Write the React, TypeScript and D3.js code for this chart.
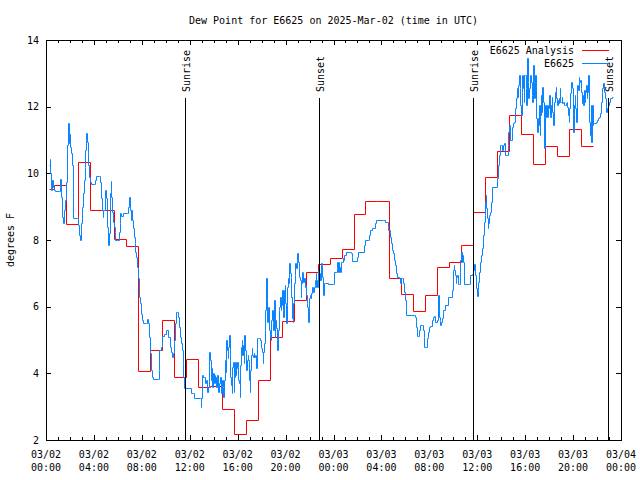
import React from "react";
import * as d3 from "d3";

const TITLE = "Dew Point for E6625 on 2025-Mar-02 (time in UTC)";
const Y_LABEL = "degrees F";
const SERIES_NAMES = ["E6625 Analysis", "E6625"];
const START_MS = Date.UTC(2025, 2, 2, 0, 0);
const END_MS = Date.UTC(2025, 2, 4, 0, 0);
const Y_DOMAIN = [2, 14];
const Y_TICKS = [2, 4, 6, 8, 10, 12, 14];

// Analysis (hourly, step): first value starts at 00:15, later values start at (k-1):40
const ANALYSIS_START_H = 0.25;
const ANALYSIS_END_H = 45.7;
const analysisValues = [
  9.52, 9.64, 8.47, 10.35, 8.9, 8.9, 8.03, 7.82, 4.07, 4.7, 5.59, 3.89, 4.42, 3.6, 3.62, 2.92,
  2.18, 2.59, 3.81, 5.09, 5.57, 6.19, 7.03, 7.27, 7.45, 7.73, 8.77, 9.18, 9.16, 6.85, 6.37, 5.86,
  6.34, 7.18, 7.34, 7.85, 8.85, 9.88, 10.68, 11.74, 11.17, 10.28, 10.82, 10.52, 11.33, 10.82,
];

// Observations: [hours since 03/02 00:00 UTC, dew point F]
const observations: [number, number][] = [
  [0.25, 10.25], [0.31, 10.42], [0.36, 10.0], [0.42, 9.5], [0.47, 9.8], [0.56, 9.6], [0.67, 9.5],
  [0.75, 9.48], [1.09, 9.48], [1.14, 9.58], [1.2, 9.82], [1.25, 9.3], [1.36, 8.7], [1.42, 8.52],
  [1.5, 8.9], [1.59, 9.2], [1.67, 9.75], [1.73, 10.05], [1.78, 10.85], [1.84, 11.5], [1.89, 10.9],
  [1.95, 11.18], [2.0, 10.8], [2.06, 10.6], [2.14, 10.25], [2.23, 9.45], [2.28, 8.65], [2.62, 8.65],
  [2.67, 8.45], [2.75, 8.15], [2.81, 8.0], [2.89, 8.5], [2.98, 9.0], [3.06, 9.4], [3.14, 9.8],
  [3.23, 10.2], [3.28, 10.7], [3.34, 11.0], [3.37, 11.2], [3.42, 10.95], [3.48, 10.6], [3.53, 10.25],
  [3.59, 9.9], [3.64, 9.75], [3.73, 9.68], [4.01, 9.68], [4.09, 9.8], [4.2, 9.93], [4.45, 9.93],
  [4.51, 9.75], [4.59, 9.25], [4.67, 8.9], [4.73, 8.7], [4.79, 8.9], [4.9, 9.25], [4.95, 9.5],
  [5.01, 9.25], [5.06, 8.9], [5.12, 8.4], [5.2, 7.85], [5.26, 8.2], [5.31, 8.7], [5.37, 9.4],
  [5.4, 9.78], [5.45, 9.3], [5.51, 8.85], [5.59, 8.55], [5.68, 8.4], [5.73, 8.25], [5.79, 8.0],
  [5.95, 8.0], [6.07, 8.25], [6.15, 8.5], [6.2, 8.8], [6.29, 8.72], [6.4, 8.8], [6.79, 8.8],
  [6.87, 9.0], [6.96, 9.3], [7.01, 8.9], [7.07, 8.6], [7.12, 8.9], [7.21, 8.6], [7.26, 8.35],
  [7.32, 8.1], [7.4, 7.9], [7.46, 7.65], [7.54, 7.5], [7.62, 7.2], [7.68, 6.85], [7.74, 6.3],
  [7.82, 6.1], [7.9, 6.0], [7.96, 5.78], [8.04, 5.6], [8.12, 5.5], [8.32, 5.5], [8.4, 5.62],
  [8.49, 5.5], [8.57, 5.1], [8.65, 4.6], [8.74, 4.1], [8.82, 3.9], [8.93, 3.82], [9.35, 3.82],
  [9.4, 4.1], [9.46, 4.7], [9.57, 4.8], [9.65, 5.0], [9.71, 5.12], [9.85, 5.18], [9.99, 5.3],
  [10.16, 5.3], [10.21, 5.1], [10.32, 4.8], [10.41, 4.65], [10.49, 4.5], [10.57, 4.6], [10.66, 5.0],
  [10.77, 5.5], [10.82, 5.85], [10.93, 5.85], [11.02, 5.7], [11.1, 5.4], [11.19, 5.1], [11.24, 4.9],
  [11.32, 4.7], [11.41, 4.3], [11.46, 3.9], [11.52, 3.55],
  [12.08, 3.56], [12.13, 3.42], [12.3, 3.42], [12.35, 3.25], [12.86, 3.25], [12.91, 3.0],
  [12.97, 3.25], [13.05, 3.95], [13.13, 3.9], [13.24, 3.7], [13.33, 3.8], [13.41, 3.45], [13.52, 3.6],
  [13.58, 3.9], [13.63, 4.65], [13.69, 4.4], [13.75, 3.8], [13.8, 4.15], [13.88, 3.6], [13.97, 4.0],
  [14.02, 3.7], [14.08, 3.95], [14.13, 3.9], [14.19, 3.6], [14.25, 3.85], [14.3, 3.95], [14.39, 3.45],
  [14.47, 3.7], [14.53, 3.9], [14.61, 3.4], [14.69, 3.8], [14.75, 3.6], [14.8, 3.3], [14.89, 3.8],
  [14.94, 4.4], [15.0, 4.05], [15.06, 5.0], [15.11, 4.7], [15.16, 4.45], [15.22, 4.8], [15.28, 5.15],
  [15.33, 4.4], [15.39, 3.9], [15.44, 3.65], [15.5, 3.4], [15.55, 4.2], [15.61, 4.35], [15.67, 3.45],
  [15.72, 3.9], [15.78, 4.35], [15.83, 3.95], [15.89, 4.15], [15.94, 4.35], [16.0, 4.2], [16.05, 3.8],
  [16.11, 3.7], [16.17, 3.3], [16.22, 4.25], [16.28, 4.8], [16.33, 5.0], [16.39, 4.55], [16.45, 4.85],
  [16.5, 4.3], [16.56, 5.15], [16.61, 4.7], [16.67, 4.6], [16.72, 4.1], [16.78, 4.4], [16.83, 4.55],
  [16.89, 4.4], [16.95, 3.8], [17.0, 3.45], [17.06, 4.1], [17.11, 4.55], [17.17, 4.75], [17.22, 4.55],
  [17.28, 4.5], [17.33, 4.6], [17.39, 4.5], [17.45, 4.55], [17.5, 4.55], [17.56, 4.15], [17.61, 5.05],
  [17.67, 5.05], [17.78, 5.05], [17.86, 5.0], [17.92, 4.8], [17.97, 4.75], [18.03, 4.65], [18.08, 4.3],
  [18.14, 4.65], [18.2, 4.9], [18.25, 5.3], [18.31, 5.9], [18.36, 6.85], [18.42, 6.2], [18.47, 5.55],
  [18.53, 6.0], [18.59, 5.3], [18.64, 5.3], [18.7, 5.1], [18.75, 5.0], [18.81, 5.6], [18.86, 5.9],
  [18.92, 5.5], [18.98, 5.3], [19.03, 6.2], [19.09, 5.1], [19.14, 5.6], [19.2, 5.35], [19.25, 5.0],
  [19.31, 4.7], [19.37, 5.3], [19.42, 5.9], [19.48, 6.0], [19.53, 6.3], [19.59, 5.9], [19.64, 6.05],
  [19.7, 6.5], [19.76, 5.9], [19.81, 5.7], [19.87, 6.5], [19.92, 6.65], [19.98, 6.1], [20.03, 5.5],
  [20.09, 6.05], [20.14, 6.6], [20.2, 6.85], [20.26, 6.7], [20.31, 7.3], [20.37, 7.0], [20.42, 6.9],
  [20.48, 6.3], [20.53, 5.65], [20.59, 5.55], [20.64, 6.1], [20.7, 6.7], [20.76, 6.95], [20.81, 7.3],
  [20.87, 7.15], [20.92, 7.4], [20.98, 7.6], [21.04, 7.35], [21.09, 7.2], [21.15, 6.9], [21.2, 6.8],
  [21.26, 6.3], [21.31, 6.7], [21.37, 7.05], [21.42, 7.0], [21.48, 6.75], [21.54, 6.85], [21.59, 6.6],
  [21.65, 6.65], [21.7, 6.35], [21.76, 6.1], [21.81, 6.0], [21.87, 5.55], [21.93, 5.95], [21.98, 6.25],
  [22.04, 6.35], [22.09, 6.25], [22.15, 6.4], [22.2, 6.6], [22.26, 6.6], [22.31, 6.45], [22.37, 6.6],
  [22.42, 6.65],
  [22.45, 6.8], [22.51, 7.0], [22.57, 6.6], [22.62, 6.8], [22.68, 6.6], [22.73, 7.1], [22.79, 6.8],
  [22.84, 7.0], [22.9, 6.8], [22.95, 7.3], [23.01, 7.25], [23.07, 6.9], [23.12, 6.35], [23.18, 6.7],
  [23.29, 6.7], [23.57, 6.68], [23.98, 6.68], [24.04, 7.05], [24.18, 7.05], [24.26, 7.15], [24.32, 7.35],
  [24.38, 7.05], [24.43, 7.35], [24.49, 7.2], [24.54, 7.05], [24.6, 7.35], [24.68, 7.35], [24.79, 7.45],
  [24.85, 7.4], [24.91, 7.55], [25.01, 7.65], [25.38, 7.65], [25.46, 7.6], [25.52, 7.5], [25.57, 7.38],
  [25.93, 7.38], [25.99, 7.5], [26.07, 7.65], [26.52, 7.65], [26.57, 7.85], [26.63, 8.0], [26.9, 8.0],
  [26.99, 8.15], [27.05, 8.3], [27.19, 8.35], [27.47, 8.5], [27.52, 8.6], [28.16, 8.6], [28.3, 8.53],
  [28.44, 8.53], [28.52, 8.4], [28.58, 8.3], [28.69, 8.25], [28.74, 8.1], [28.83, 7.9], [28.91, 7.7],
  [28.99, 7.6], [29.05, 7.4], [29.13, 7.25], [29.21, 7.0], [29.33, 6.9], [29.47, 6.85], [29.55, 6.7],
  [29.6, 6.85], [29.69, 6.85], [29.8, 6.7], [29.91, 6.45], [29.97, 6.2], [30.02, 6.0], [30.08, 5.74],
  [30.74, 5.74], [30.8, 5.7], [30.86, 5.58], [30.91, 5.4], [30.97, 5.13], [31.08, 5.13], [31.13, 5.3],
  [31.19, 5.45], [31.41, 5.45], [31.47, 5.3], [31.52, 5.1], [31.58, 4.78], [31.72, 4.78], [31.77, 5.05],
  [31.86, 5.1], [31.91, 5.25], [32.0, 5.4], [32.08, 5.42], [32.19, 5.42], [32.24, 5.6], [32.33, 5.7],
  [32.39, 5.72], [32.47, 5.55], [32.61, 5.6], [32.7, 5.9], [32.75, 6.35], [32.81, 5.7], [32.86, 5.6],
  [32.92, 5.45], [32.97, 5.55], [33.03, 5.65], [33.11, 5.8], [33.17, 5.9], [33.31, 6.05], [33.53, 6.05],
  [33.58, 6.3], [33.86, 6.3], [33.92, 6.5], [33.97, 7.1], [34.03, 7.25], [34.08, 7.1], [34.14, 6.95],
  [34.2, 6.7], [34.25, 6.9], [34.31, 6.95], [34.36, 6.68], [34.47, 6.68], [34.53, 7.2], [34.58, 7.4],
  [34.64, 7.65], [34.7, 7.35], [34.75, 7.55], [34.84, 7.35], [34.92, 6.68],
  [35.31, 6.67], [35.36, 6.95], [35.59, 6.97], [35.67, 7.1], [35.76, 7.27], [35.81, 6.95], [35.89, 6.55],
  [35.95, 6.33], [36.03, 6.5], [36.09, 6.75], [36.17, 7.05], [36.23, 7.35], [36.28, 7.55], [36.37, 7.75],
  [36.45, 7.95], [36.51, 8.15], [36.56, 8.55], [36.62, 8.75], [36.64, 9.15], [36.7, 9.35], [36.76, 8.95],
  [36.81, 8.65], [36.87, 8.35], [36.92, 8.5], [36.98, 8.75], [37.06, 8.85], [37.15, 9.15], [37.2, 9.6],
  [37.62, 9.6], [37.68, 9.85], [37.76, 10.25], [37.82, 10.55], [37.9, 10.85], [37.98, 10.85],
  [38.09, 10.7], [38.15, 10.85], [38.23, 10.9], [38.29, 10.55], [38.45, 10.55], [38.54, 10.85],
  [38.59, 11.25], [38.65, 11.45], [38.7, 11.4], [38.76, 11.0], [38.87, 11.25], [38.93, 11.4],
  [38.98, 11.5], [39.04, 11.55], [39.15, 11.95], [39.21, 12.25], [39.29, 12.55], [39.37, 12.3],
  [39.43, 12.65], [39.48, 12.95], [39.54, 12.55], [39.6, 12.05], [39.65, 11.75], [39.71, 12.45],
  [39.76, 12.95], [39.82, 12.55], [39.87, 12.15], [39.93, 12.95], [39.99, 12.95], [40.04, 12.55],
  [40.1, 12.05], [40.15, 13.45], [40.21, 12.75], [40.26, 12.25], [40.32, 12.55], [40.4, 12.95],
  [40.48, 12.75], [40.54, 12.35], [40.6, 12.15], [40.65, 13.25], [40.71, 12.75], [40.76, 12.25],
  [40.82, 12.95], [40.88, 12.15], [40.93, 11.65], [40.99, 11.25], [41.04, 11.65], [41.1, 11.45],
  [41.15, 12.05], [41.21, 11.15], [41.27, 11.75], [41.32, 12.35], [41.38, 11.85], [41.43, 12.6],
  [41.49, 12.15], [41.54, 11.7], [41.6, 10.75], [41.66, 12.05], [41.71, 11.7], [41.77, 11.7],
  [41.82, 12.05], [41.88, 11.7], [41.94, 11.95], [41.99, 12.35], [42.05, 11.75], [42.1, 11.7],
  [42.16, 12.05], [42.21, 12.3], [42.27, 11.85], [42.32, 11.45], [42.38, 11.95], [42.43, 12.15],
  [42.49, 12.45], [42.55, 12.6], [42.6, 12.25], [42.66, 12.05], [42.71, 12.2], [42.77, 12.1],
  [42.83, 12.25], [42.88, 12.55], [42.94, 12.15], [42.99, 12.15], [43.05, 12.3], [43.1, 12.1],
  [43.19, 12.15], [43.27, 12.05], [43.32, 12.05], [43.38, 12.1], [43.46, 12.15], [43.52, 12.0],
  [43.58, 11.75], [43.63, 11.55], [43.69, 11.95], [43.74, 12.4], [43.8, 12.55], [43.85, 12.75],
  [43.91, 12.55], [43.97, 11.95], [44.02, 11.25], [44.08, 12.05], [44.13, 12.35], [44.19, 11.95],
  [44.24, 11.55], [44.3, 12.35], [44.35, 12.65], [44.41, 12.5], [44.47, 12.9], [44.52, 12.75],
  [44.58, 12.8], [44.63, 12.55], [44.69, 12.45], [44.74, 12.1], [44.8, 12.35], [44.85, 12.05],
  [44.91, 12.5], [44.97, 12.15], [45.02, 12.45], [45.08, 12.65], [45.13, 12.25], [45.19, 12.45],
  [45.24, 12.95], [45.3, 11.85], [45.35, 11.55], [45.41, 11.15], [45.47, 12.05], [45.52, 10.95],
  [45.58, 12.05], [45.63, 11.45], [45.69, 11.5], [45.77, 11.5], [45.88, 11.55], [45.99, 11.6],
  [46.1, 11.65], [46.19, 11.7], [46.27, 11.8], [46.33, 12.15], [46.38, 12.45], [46.44, 12.55],
  [46.49, 12.7], [46.55, 12.55], [46.6, 12.45], [46.66, 12.25], [46.72, 12.25], [46.77, 11.85],
  [46.83, 11.95], [46.88, 12.05], [47.0, 12.15], [47.11, 12.25], [47.22, 12.3], [47.3, 12.3],
];

const sunLabels = ["Sunrise", "Sunset", "Sunrise", "Sunset"];
const sunHours = [11.63, 22.81, 35.67, 46.89];

const COLORS = { analysis: "#ff0000", obs: "#0a84ff", axis: "#000000" };
const FONT = "'DejaVu Sans Mono', 'Liberation Mono', monospace";

const W = 640;
const H = 480;
const PLOT = { left: 46, right: 621, top: 40, bottom: 440 };

const hToDate = (h: number) => new Date(START_MS + h * 3600000);
const px = (v: number) => Math.round(v) + 0.5;

export default function App() {
  const x = d3.scaleUtc().domain([new Date(START_MS), new Date(END_MS)]).range([PLOT.left, PLOT.right]);
  const y = d3.scaleLinear().domain(Y_DOMAIN).range([PLOT.bottom, PLOT.top]);

  const analysisPts: [number, number][] = analysisValues.map((v, k) => [k === 0 ? ANALYSIS_START_H : k - 0.33, v]);
  analysisPts.push([ANALYSIS_END_H, analysisValues[analysisValues.length - 1]]);

  const stepLine = d3
    .line<[number, number]>()
    .x((d) => px(x(hToDate(d[0]))))
    .y((d) => px(y(d[1])))
    .curve(d3.curveStepAfter);

  const majorTicks = x.ticks(d3.utcHour.every(4) as any);
  const minorTicks = x.ticks(d3.utcHour.every(1) as any);
  const fmtDate = d3.utcFormat("%m/%d");
  const fmtTime = d3.utcFormat("%H:%M");

  return (
    <div style={{ position: "absolute", left: 0, top: 0 }}>
      <svg width={W} height={H} style={{ display: "block", background: "#fff" }} fontFamily={FONT} fontSize={10}>
        <rect x={0} y={0} width={W} height={H} fill="#fff" />
        <text x={(PLOT.left + PLOT.right) / 2} y={20} textAnchor="middle" dominantBaseline="central">
          {TITLE}
        </text>
        <text transform={`translate(10,${(PLOT.top + PLOT.bottom) / 2}) rotate(-90)`} textAnchor="middle" dominantBaseline="central">
          {Y_LABEL}
        </text>

        {/* ticks */}
        <g stroke={COLORS.axis} strokeWidth={1} shapeRendering="crispEdges">
          {minorTicks.map((t, i) => {
            const xx = px(x(t));
            return (
              <g key={"mt" + i}>
                <line x1={xx} x2={xx} y1={PLOT.bottom} y2={PLOT.bottom - 3} />
                <line x1={xx} x2={xx} y1={PLOT.top} y2={PLOT.top + 3} />
              </g>
            );
          })}
          {majorTicks.map((t, i) => {
            const xx = px(x(t));
            return (
              <g key={"Mt" + i}>
                <line x1={xx} x2={xx} y1={PLOT.bottom} y2={PLOT.bottom - 5} />
                <line x1={xx} x2={xx} y1={PLOT.top} y2={PLOT.top + 5} />
              </g>
            );
          })}
          {Y_TICKS.map((v) => {
            const yy = px(y(v));
            return (
              <g key={"yt" + v}>
                <line x1={PLOT.left} x2={PLOT.left + 5} y1={yy} y2={yy} />
                <line x1={PLOT.right} x2={PLOT.right - 5} y1={yy} y2={yy} />
              </g>
            );
          })}
        </g>

        {Y_TICKS.map((v) => (
          <text key={"yl" + v} x={PLOT.left - 7} y={y(v)} textAnchor="end" dominantBaseline="central">
            {v}
          </text>
        ))}
        {majorTicks.map((t, i) => (
          <g key={"xl" + i}>
            <text x={x(t)} y={454} textAnchor="middle" dominantBaseline="central">
              {fmtDate(t)}
            </text>
            <text x={x(t)} y={467} textAnchor="middle" dominantBaseline="central">
              {fmtTime(t)}
            </text>
          </g>
        ))}

        <path d={stepLine(analysisPts) || ""} fill="none" stroke={COLORS.analysis} strokeWidth={1} />
        <path d={stepLine(observations) || ""} fill="none" stroke={COLORS.obs} strokeWidth={1} />

        {/* sunrise / sunset markers */}
        {sunHours.map((h, i) => {
          const xx = px(x(hToDate(h)));
          return (
            <g key={"sun" + i}>
              <line x1={xx} x2={xx} y1={98} y2={PLOT.bottom} stroke="#000" strokeWidth={1} shapeRendering="crispEdges" />
              <text transform={`translate(${xx + 1},92) rotate(-90)`} textAnchor="start" dominantBaseline="central">
                {sunLabels[i]}
              </text>
            </g>
          );
        })}

        {/* legend */}
        <text x={574} y={50.5} textAnchor="end" dominantBaseline="central">{SERIES_NAMES[0]}</text>
        <line x1={582} x2={609} y1={50.5} y2={50.5} stroke={COLORS.analysis} strokeWidth={1} shapeRendering="crispEdges" />
        <text x={574} y={63} textAnchor="end" dominantBaseline="central">{SERIES_NAMES[1]}</text>
        <line x1={582} x2={609} y1={63.5} y2={63.5} stroke={COLORS.obs} strokeWidth={1} shapeRendering="crispEdges" />

        <rect
          x={PLOT.left + 0.5}
          y={PLOT.top + 0.5}
          width={PLOT.right - PLOT.left}
          height={PLOT.bottom - PLOT.top}
          fill="none"
          stroke="#000"
          strokeWidth={1}
          shapeRendering="crispEdges"
        />
      </svg>
    </div>
  );
}
